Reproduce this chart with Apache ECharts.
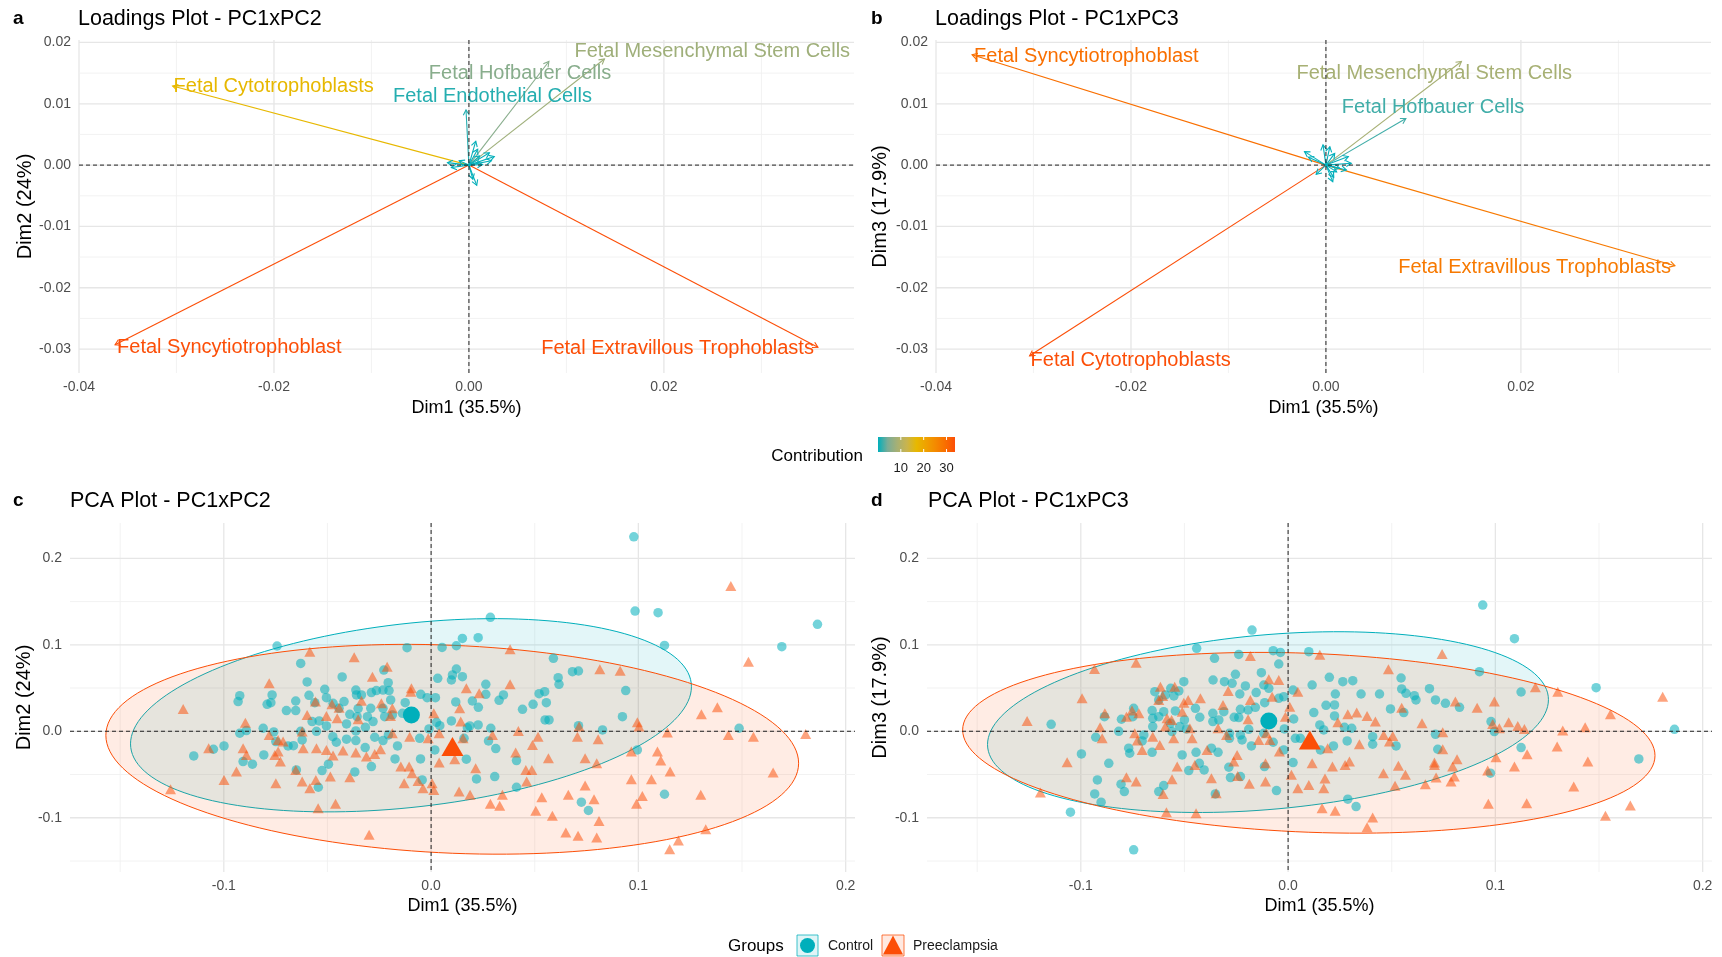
<!DOCTYPE html>
<html><head><meta charset="utf-8">
<script src="https://cdn.jsdelivr.net/npm/echarts@6/dist/echarts.min.js"></script>
<style>html,body{margin:0;padding:0;background:#fff}#c{width:1722px;height:957px}</style>
</head><body><div id="c"></div>
<script>
// ================= DATA =================
// Loadings (variables)
const varNames = ['Fetal Syncytiotrophoblast','Fetal Extravillous Trophoblasts','Fetal Cytotrophoblasts','Fetal Mesenchymal Stem Cells','Fetal Hofbauer Cells','Fetal Endothelial Cells',
  'Cell type 7','Cell type 8','Cell type 9','Cell type 10','Cell type 11','Cell type 12','Cell type 13','Cell type 14','Cell type 15','Cell type 16','Cell type 17','Cell type 18'];
const loadDim1 = [-0.0363, 0.0358, -0.0304, 0.0139, 0.0082, -0.0003, 0.0007, 0.0009, 0.0021, 0.0026, 0.0023, 0.0011, -0.0022, -0.0018, 0.0008, 0.0004, 0.0014, -0.0010];
const loadDim2 = [-0.0293, -0.0297, 0.0129, 0.0173, 0.0169, 0.0090, 0.0039, 0.0026, 0.0020, 0.0014, 0.0007, 0.0015, 0.0004, -0.0004, -0.0033, -0.0023, 0.0001, 0.0007];
const loadDim3 = [0.0180, -0.0164, -0.0311, 0.0169, 0.0076, 0.0033, -0.0027, 0.0019, -0.0008, 0.0003, 0.0014, -0.0011, 0.0022, 0.0013, -0.0020, 0.0030, -0.0005, -0.0015];
const contribPC12 = [33.7, 33.7, 16.9, 7.7, 5.5, 1.3, 0.24, 0.12, 0.13, 0.14, 0.09, 0.05, 0.08, 0.05, 0.18, 0.09, 0.03, 0.02];
const contribPC13 = [28.6, 27.1, 32.9, 8.3, 2.2, 0.2, 0.13, 0.07, 0.09, 0.12, 0.13, 0.04, 0.17, 0.08, 0.08, 0.04, 0.04, 0.05];
const contribTicks = [10, 20, 30];

// Tick values
const loadXMajor = [-0.04, -0.02, 0, 0.02];
const loadXMinor = [-0.03, -0.01, 0.01, 0.03];
const loadYMajor = [-0.03, -0.02, -0.01, 0, 0.01, 0.02];
const loadYMinor = [-0.025, -0.015, -0.005, 0.005, 0.015];
const pcaXMajor = [-0.1, 0, 0.1, 0.2];
const pcaXMinor = [-0.15, -0.05, 0.05, 0.15];
const pcaYMajor = [-0.1, 0, 0.1, 0.2];
const pcaYMinor = [-0.15, -0.05, 0.05, 0.15];

// Individuals, PC1 x PC2
const ctrlPC12 = [[-0.0743,0.0986],[-0.0116,0.0966],[0.0053,0.0970],[0.0122,0.0989],[-0.0629,0.0785],[-0.0228,0.0708],[0.0122,0.0720],[0.0103,0.0651],[0.0032,0.0612],[0.0098,0.0593],[-0.0429,0.0628],[-0.0598,0.0570],[-0.0207,0.0562],[-0.0923,0.0412],[-0.0931,0.0343],[-0.0767,0.0420],[-0.0773,0.0331],[-0.0791,0.0312],[-0.0653,0.0350],[-0.0698,0.0239],[-0.0653,0.0239],[-0.0589,0.0416],[-0.0513,0.0485],[-0.0505,0.0389],[-0.0561,0.0331],[-0.0473,0.0323],[-0.0420,0.0343],[-0.0444,0.0266],[-0.0363,0.0477],[-0.0360,0.0420],[-0.0336,0.0420],[-0.0288,0.0447],[-0.0264,0.0470],[-0.0232,0.0477],[-0.0203,0.0470],[-0.0195,0.0362],[-0.0125,0.0331],[-0.0050,0.0427],[-0.0019,0.0389],[0.0021,0.0389],[0.0119,0.0339],[-0.0352,0.0262],[-0.0291,0.0266],[-0.0232,0.0266],[-0.0357,0.0169],[-0.0307,0.0169],[-0.0280,0.0112],[-0.0392,0.0196],[-0.0408,0.0085],[-0.0317,0.0046],[-0.0363,0.0004],[-0.0224,0.0169],[-0.0187,0.0189],[-0.0138,0.0208],[-0.0574,0.0112],[-0.0540,0.0119],[-0.0505,0.0062],[-0.0553,0.0000],[-0.0629,0.0000],[-0.0810,0.0035],[-0.0759,-0.0008],[-0.0891,0.0008],[-0.0923,-0.0023],[-0.0690,-0.0169],[-0.0622,-0.0100],[-0.0474,-0.0062],[-0.0457,-0.0127],[-0.0408,-0.0092],[-0.0363,-0.0108],[-0.0318,-0.0189],[-0.0272,-0.0069],[-0.0232,-0.0108],[-0.0206,-0.0042],[-0.0162,-0.0169],[-0.0174,-0.0320],[-0.0288,-0.0408],[-0.0368,-0.0470],[-0.0495,-0.0381],[-0.0526,-0.0454],[-0.0544,-0.0647],[-0.0650,-0.0447],[-0.0664,-0.0166],[-0.0749,-0.0119],[-0.0807,-0.0273],[-0.0862,-0.0381],[-0.0907,-0.0350],[-0.0999,-0.0169],[-0.1050,-0.0208],[-0.1145,-0.0285],[-0.0055,-0.0081],[-0.0010,0.0027],[0.0026,0.0104],[0.0042,0.0065],[0.0098,0.0119],[0.0018,-0.0216],[-0.0051,-0.0320],[-0.0043,-0.0562],
  [0.0151,0.1074],[0.0151,0.0631],[0.0159,-0.0081],[0.0170,-0.0323],[0.0175,0.0040],
  [0.0978,0.2248],[0.0286,0.1317],[0.0227,0.1082],[0.0984,0.1390],[0.1095,0.1371],[0.1864,0.1236],[0.1126,0.0993],[0.1692,0.0978],[0.0590,0.0843],[0.0682,0.0689],[0.0711,0.0697],[0.0613,0.0620],[0.0617,0.0543],[0.0264,0.0543],[0.0264,0.0427],[0.0199,0.0350],[0.0228,0.0277],[0.0328,0.0358],[0.0349,0.0420],[0.0441,0.0254],[0.0492,0.0312],[0.0521,0.0435],[0.0548,0.0458],[0.0556,0.0331],[0.0550,0.0131],[0.0569,0.0131],[0.0939,0.0470],[0.0923,0.0169],[0.0711,0.0065],[0.0827,0.0015],[0.0227,0.0073],[0.0187,0.0062],[0.0288,0.0035],[0.0277,-0.0112],[0.0312,-0.0200],[0.0412,-0.0339],[0.0307,-0.0524],[0.0219,-0.0551],[0.0412,-0.0647],[0.0995,-0.0216],[0.1486,0.0035],[0.1126,-0.0728],[0.0725,-0.0820],[0.0759,-0.0916]];
const preePC12 = [[-0.0585,0.0920],[-0.0371,0.0855],[-0.0283,0.0631],[-0.0212,0.0747],[-0.0781,0.0554],[-0.1196,0.0258],[-0.0896,0.0100],[-0.0781,-0.0042],[-0.0738,-0.0100],[-0.0714,-0.0119],[-0.0598,0.0189],[-0.0558,0.0343],[-0.0505,0.0177],[-0.0478,0.0312],[-0.0453,0.0150],[-0.0444,0.0273],[-0.0352,0.0139],[-0.0336,0.0354],[-0.0240,0.0323],[-0.0187,0.0266],[-0.0196,0.0177],[-0.0095,0.0497],[-0.0098,0.0458],[0.0013,0.0208],[0.0039,-0.0023],[-0.0014,-0.0081],[-0.0103,-0.0062],[-0.0187,-0.0023],[-0.0622,-0.0004],[-0.1073,-0.0196],[-0.0907,-0.0196],[-0.0891,-0.0273],[-0.0738,-0.0235],[-0.0754,-0.0273],[-0.0727,-0.0350],[-0.0617,-0.0196],[-0.0553,-0.0196],[-0.0505,-0.0216],[-0.0473,-0.0281],[-0.0425,-0.0223],[-0.0363,-0.0246],[-0.0312,-0.0293],[-0.0272,-0.0262],[-0.0244,-0.0208],[-0.0939,-0.0466],[-0.0999,-0.0562],[-0.0749,-0.0601],[-0.0653,-0.0447],[-0.0622,-0.0581],[-0.0585,-0.0658],[-0.0556,-0.0562],[-0.0486,-0.0524],[-0.0392,-0.0531],[-0.0146,-0.0408],[-0.0106,-0.0408],[-0.0092,-0.0485],[-0.0130,-0.0601],[-0.0039,-0.0658],[0.0005,-0.0601],[0.0013,-0.0678],[-0.0063,-0.0574],[0.0039,-0.0362],[0.0114,-0.0323],[-0.0461,-0.0839],[-0.0545,-0.0889],[-0.0299,-0.1197],[-0.1257,-0.0670],[0.0138,0.0266],[0.0135,-0.0697],
  [0.0170,0.0497],[0.0143,0.0112],[0.0154,-0.0081],
  [0.1446,0.1679],[0.1531,0.0805],[0.0381,0.0947],[0.0814,0.0716],[0.0912,0.0701],[0.0381,0.0543],[0.0232,0.0439],[0.1304,0.0196],[0.1381,0.0277],[0.0995,0.0104],[0.1003,0.0054],[0.1140,-0.0015],[0.1434,-0.0042],[0.1555,-0.0062],[0.1807,-0.0031],[0.0421,0.0004],[0.0516,-0.0062],[0.0489,-0.0158],[0.0296,-0.0042],[0.0706,-0.0062],[0.0714,0.0054],[0.0806,-0.0092],[0.0408,-0.0246],[0.0566,-0.0312],[0.0743,-0.0312],[0.0799,-0.0370],[0.0966,-0.0235],[0.1092,-0.0235],[0.1108,-0.0339],[0.1153,-0.0466],[0.1650,-0.0477],[0.0215,-0.0427],[0.0457,-0.0447],[0.0486,-0.0447],[0.0461,-0.0581],[0.0743,-0.0628],[0.0966,-0.0554],[0.1063,-0.0554],[0.0344,-0.0735],[0.0286,-0.0839],[0.0331,-0.0862],[0.0188,-0.0735],[0.0534,-0.0762],[0.0662,-0.0735],[0.0786,-0.0785],[0.1019,-0.0747],[0.0991,-0.0839],[0.1301,-0.0735],[0.0505,-0.0920],[0.0585,-0.0978],[0.0810,-0.1036],[0.0650,-0.1170],[0.0709,-0.1209],[0.0799,-0.1228],[0.1325,-0.1132],[0.1193,-0.1263],[0.1151,-0.1363]];

// Individuals, PC1 x PC3
const ctrlPC13 = [[-0.0174,0.1170],[-0.0441,0.0959],[-0.0355,0.0843],[-0.0238,0.0889],[-0.0072,0.0932],[-0.0037,0.0912],[-0.0045,0.0778],[0.0100,0.0920],[-0.0254,0.0658],[-0.0129,0.0678],[-0.0362,0.0593],[-0.0307,0.0574],[-0.0270,0.0554],[-0.0206,0.0524],[-0.0117,0.0535],[-0.0503,0.0574],[-0.0566,0.0497],[-0.0527,0.0466],[-0.0643,0.0458],[-0.0592,0.0420],[-0.0624,0.0362],[-0.0551,0.0408],[-0.0233,0.0431],[-0.0154,0.0447],[-0.0093,0.0497],[-0.0113,0.0331],[-0.0045,0.0381],[-0.0021,0.0400],[0.0024,0.0477],[0.0116,0.0535],[0.0124,0.0216],[0.0027,0.0142],[-0.0158,0.0277],[-0.0193,0.0246],[-0.0230,0.0254],[-0.0238,0.0158],[-0.0260,0.0162],[-0.0310,0.0227],[-0.0363,0.0208],[-0.0363,0.0112],[-0.0334,0.0131],[-0.0426,0.0162],[-0.0447,0.0266],[-0.0500,0.0131],[-0.0490,0.0027],[-0.0544,0.0235],[-0.0600,0.0227],[-0.0656,0.0239],[-0.0653,0.0150],[-0.0653,0.0054],[-0.0568,0.0092],[-0.0560,-0.0004],[-0.0523,0.0054],[-0.0745,0.0266],[-0.0804,0.0139],[-0.0749,0.0169],[-0.0886,0.0169],[-0.0817,0.0000],[-0.0696,-0.0042],[-0.0704,-0.0112],[-0.0769,-0.0196],[-0.0764,-0.0254],[-0.0656,-0.0243],[-0.0928,-0.0069],[-0.0997,-0.0262],[-0.1143,0.0081],[-0.0865,-0.0370],[-0.0920,-0.0562],[-0.0933,-0.0724],[-0.0902,-0.0820],[-0.0806,-0.0612],[-0.0790,-0.0697],[-0.0600,-0.0628],[-0.0624,-0.0697],[-0.0511,-0.0273],[-0.0479,-0.0454],[-0.0444,-0.0243],[-0.0428,-0.0370],[-0.0405,-0.0447],[-0.0370,-0.0196],[-0.0338,-0.0243],[-0.0351,-0.0724],[-0.0286,-0.0416],[-0.0278,-0.0535],[-0.0230,-0.0524],[-0.0283,-0.0023],[-0.0283,-0.0081],[-0.0230,-0.0042],[-0.0222,-0.0100],[-0.0190,0.0023],[-0.0177,-0.0169],[-0.0117,-0.0023],[-0.0072,-0.0127],[-0.0114,-0.0408],[-0.0056,-0.0685],[-0.0021,-0.0216],[0.0024,-0.0362],[-0.0018,0.0027],[0.0035,-0.0081],[0.0059,-0.0081],[0.0153,0.0073],[0.0172,0.0015],[0.0156,-0.0216],[-0.1050,-0.0936],[-0.0745,-0.1371],[-0.0624,0.0169],
  [0.0939,0.1459],[0.1092,0.1070],[0.1486,0.0504],[0.1864,0.0023],[0.1692,-0.0320],[0.0923,0.0689],[0.1124,0.0454],[0.0979,0.0112],[0.0995,-0.0004],[0.1124,-0.0189],[0.0976,-0.0485],[0.0199,0.0624],[0.0264,0.0574],[0.0312,0.0585],[0.0228,0.0431],[0.0352,0.0431],[0.0441,0.0431],[0.0545,0.0616],[0.0548,0.0489],[0.0569,0.0439],[0.0609,0.0412],[0.0617,0.0362],[0.0682,0.0493],[0.0711,0.0362],[0.0759,0.0323],[0.0827,0.0277],[0.0183,0.0300],[0.0224,0.0304],[0.0224,0.0177],[0.0494,0.0258],[0.0558,0.0216],[0.0272,0.0046],[0.0307,0.0035],[0.0285,-0.0112],[0.0408,-0.0062],[0.0408,-0.0150],[0.0521,-0.0169],[0.0711,-0.0035],[0.0722,-0.0208],[0.0288,-0.0785],[0.0328,-0.0870],[0.0219,-0.0169]];
const preePC13 = [[-0.0733,0.0793],[-0.0934,0.0720],[-0.0182,0.0870],[0.0153,0.0886],[-0.0994,0.0381],[-0.1259,0.0119],[-0.0884,0.0208],[-0.0907,0.0046],[-0.0897,-0.0081],[-0.1066,-0.0358],[-0.1195,-0.0708],[-0.0780,0.0169],[-0.0753,0.0239],[-0.0720,0.0208],[-0.0740,-0.0023],[-0.0727,-0.0108],[-0.0704,-0.0216],[-0.0616,0.0516],[-0.0605,0.0408],[-0.0624,0.0362],[-0.0547,0.0516],[-0.0584,0.0150],[-0.0562,0.0131],[-0.0592,0.0054],[-0.0511,0.0227],[-0.0503,0.0331],[-0.0482,0.0362],[-0.0423,0.0381],[-0.0474,0.0035],[-0.0463,-0.0081],[-0.0552,-0.0081],[-0.0653,-0.0062],[-0.0619,-0.0158],[-0.0535,-0.0408],[-0.0560,-0.0554],[-0.0733,-0.0581],[-0.0780,-0.0531],[-0.0603,-0.0724],[-0.0587,-0.0936],[-0.0444,-0.0947],[-0.0450,-0.0389],[-0.0370,-0.0543],[-0.0347,-0.0716],[-0.0391,-0.0216],[-0.0338,0.0035],[-0.0314,0.0304],[-0.0289,0.0466],[-0.0297,-0.0042],[-0.0246,-0.0273],[-0.0243,-0.0516],[-0.0262,-0.0350],[-0.0187,-0.0608],[-0.0109,-0.0370],[-0.0109,-0.0581],[-0.0142,-0.0100],[-0.0193,0.0139],[-0.0182,0.0362],[-0.0093,0.0601],[-0.0045,0.0593],[-0.0077,0.0400],[-0.0088,-0.0100],[0.0008,0.0285],[-0.0013,0.0169],[0.0047,0.0458],[-0.0042,-0.0235],[0.0016,-0.0504],[0.0047,-0.0658],[0.0100,-0.0620],[0.0116,-0.0370],[0.0164,-0.0889],[-0.0105,-0.0023],
  [0.0743,0.0893],[0.0484,0.0716],[0.1807,0.0400],[0.1193,0.0508],[0.1301,0.0458],[0.1555,0.0196],[0.0995,0.0343],[0.0912,0.0273],[0.0807,0.0343],[0.0288,0.0196],[0.0331,0.0216],[0.0381,0.0177],[0.0421,0.0112],[0.0240,0.0104],[0.0548,0.0273],[0.0646,0.0092],[0.0746,-0.0012],[0.0987,0.0085],[0.1019,0.0035],[0.1064,0.0104],[0.1108,0.0062],[0.1140,0.0027],[0.1325,0.0008],[0.1433,0.0046],[0.0461,-0.0042],[0.0505,-0.0054],[0.0489,-0.0119],[0.0344,-0.0150],[0.0191,-0.0196],[0.0214,-0.0408],[0.0275,-0.0389],[0.0296,-0.0350],[0.0178,-0.0547],[0.0172,-0.0658],[0.0460,-0.0485],[0.0532,-0.0400],[0.0566,-0.0504],[0.0516,-0.0631],[0.0662,-0.0612],[0.0706,-0.0362],[0.0706,-0.0389],[0.0714,-0.0535],[0.0746,-0.0208],[0.0794,-0.0408],[0.0815,-0.0323],[0.0786,-0.0581],[0.0802,-0.0524],[0.0963,-0.0454],[0.1003,-0.0300],[0.1092,-0.0408],[0.1153,-0.0266],[0.1298,-0.0177],[0.1446,-0.0350],[0.1378,-0.0639],[0.0966,-0.0839],[0.1151,-0.0832],[0.1531,-0.0978],[0.1651,-0.0859],[0.0408,-0.0997],[0.0381,-0.1109],[0.0227,-0.0920]];

// Group means
const meanCtrlPC12 = [-0.0095, 0.0189];
const meanPreePC12 = [0.0103, -0.0177];
const meanCtrlPC13 = [-0.0093, 0.0119];
const meanPreePC13 = [0.0105, -0.0100];

// Confidence ellipses: [centerX, centerY, halfWidthX, halfHeightY, correlation]
const ellCtrlPC12 = [-0.0097, 0.0185, 0.1353, 0.1117, 0.296];
const ellPreePC12 = [0.0102, -0.0208, 0.1671, 0.1213, -0.133];
const ellCtrlPC13 = [-0.0097, 0.0106, 0.1353, 0.1045, 0.248];
const ellPreePC13 = [0.0100, -0.0133, 0.1670, 0.1045, -0.142];

// ================= STYLE =================
const FONT = '"Liberation Sans", Arial, Helvetica, sans-serif';
const TEAL = '#00AFBB', ORANGE = '#FC4E07';
const GRAD = ['#00AFBB','#7AAC97','#A7B074','#C9B44E','#E7B800','#EFA100','#F48900','#F96E00','#FC4E07'];

const labelPosA = {
  'Fetal Syncytiotrophoblast': {dx: 2, dy: 3, align: 'left'},
  'Fetal Extravillous Trophoblasts': {dx: -4, dy: 1, align: 'right'},
  'Fetal Cytotrophoblasts': {dx: 1, dy: 0, align: 'left'},
  'Fetal Mesenchymal Stem Cells': {dx: -30, dy: -8, align: 'left'},
  'Fetal Hofbauer Cells': {dx: -120, dy: 12, align: 'left'},
  'Fetal Endothelial Cells': {dx: -73, dy: -13, align: 'left'}
};
const labelPosB = {
  'Fetal Syncytiotrophoblast': {dx: 2, dy: 2, align: 'left'},
  'Fetal Cytotrophoblasts': {dx: 1, dy: 5, align: 'left'},
  'Fetal Extravillous Trophoblasts': {dx: -4, dy: 2, align: 'right'},
  'Fetal Mesenchymal Stem Cells': {dx: -165, dy: 12, align: 'left'},
  'Fetal Hofbauer Cells': {dx: -64, dy: -11, align: 'left'}
};

const panels = [
  {grid: {left: 79, top: 40, width: 775, height: 333}, x: [-0.04, 0.0395], y: [-0.0339, 0.0204], xName: 'Dim1 (35.5%)', yName: 'Dim2 (24%)', xGap: 26, yGap: 44, digits: 2, xMaj: loadXMajor, xMin: loadXMinor, yMaj: loadYMajor, yMin: loadYMinor},
  {grid: {left: 936, top: 40, width: 775, height: 333}, x: [-0.04, 0.0395], y: [-0.0339, 0.0204], xName: 'Dim1 (35.5%)', yName: 'Dim3 (17.9%)', xGap: 26, yGap: 46, digits: 2, xMaj: loadXMajor, xMin: loadXMinor, yMaj: loadYMajor, yMin: loadYMinor},
  {grid: {left: 70, top: 523, width: 785, height: 349}, x: [-0.1742, 0.2045], y: [-0.1627, 0.2408], xName: 'Dim1 (35.5%)', yName: 'Dim2 (24%)', xGap: 25, yGap: 36, digits: 1, xMaj: pcaXMajor, xMin: pcaXMinor, yMaj: pcaYMajor, yMin: pcaYMinor},
  {grid: {left: 927, top: 523, width: 785, height: 349}, x: [-0.1742, 0.2045], y: [-0.1627, 0.2408], xName: 'Dim1 (35.5%)', yName: 'Dim3 (17.9%)', xGap: 25, yGap: 37, digits: 1, xMaj: pcaXMajor, xMin: pcaXMinor, yMaj: pcaYMajor, yMin: pcaYMinor}
];

function fmt(v, d) { const s = Math.abs(v).toFixed(d); return (v < -1e-12 ? '-' : '') + s; }

// ================= BUILD =================
const grids = [], xAxes = [], yAxes = [], series = [];
panels.forEach((p, i) => {
  grids.push(Object.assign({containLabel: false}, p.grid));
  xAxes.push({gridIndex: i, type: 'value', min: p.x[0], max: p.x[1], axisLine: {show: false}, axisTick: {show: false}, axisLabel: {show: false}, splitLine: {show: false},
    name: p.xName, nameLocation: 'middle', nameGap: p.xGap, nameTextStyle: {fontSize: 18, color: '#000', fontFamily: FONT}});
  yAxes.push({gridIndex: i, type: 'value', min: p.y[0], max: p.y[1], axisLine: {show: false}, axisTick: {show: false}, axisLabel: {show: false}, splitLine: {show: false},
    name: p.yName, nameLocation: 'middle', nameGap: p.yGap, nameTextStyle: {fontSize: 20, color: '#000', fontFamily: FONT}});
  const gdata = [];
  p.xMaj.forEach(v => gdata.push([v, 0, 0]));
  p.xMin.forEach(v => gdata.push([v, 0, 1]));
  p.yMaj.forEach(v => gdata.push([v, 1, 0]));
  p.yMin.forEach(v => gdata.push([v, 1, 1]));
  series.push({type: 'custom', xAxisIndex: i, yAxisIndex: i, z: 1, silent: true, data: gdata,
    renderItem: function (params, api) {
      const cs = params.coordSys;
      const v = api.value(0), dir = api.value(1), kind = api.value(2);
      const st = kind === 0 ? {stroke: '#E6E6E6', lineWidth: 1.3} : {stroke: '#F1F1F1', lineWidth: 0.9};
      const ch = [];
      if (dir === 0) {
        const px = api.coord([v, 0])[0];
        ch.push({type: 'line', shape: {x1: px, y1: cs.y, x2: px, y2: cs.y + cs.height}, style: st});
        if (kind === 0) ch.push({type: 'text', x: px, y: cs.y + cs.height + 14, style: {text: fmt(v, p.digits), fill: '#4D4D4D', fontSize: 14, fontFamily: FONT, align: 'center', verticalAlign: 'middle', textAlign: 'center', textVerticalAlign: 'middle'}});
      } else {
        const py = api.coord([0, v])[1];
        ch.push({type: 'line', shape: {x1: cs.x, y1: py, x2: cs.x + cs.width, y2: py}, style: st});
        if (kind === 0) ch.push({type: 'text', x: cs.x - 8, y: py, style: {text: fmt(v, p.digits), fill: '#4D4D4D', fontSize: 14, fontFamily: FONT, align: 'right', verticalAlign: 'middle', textAlign: 'right', textVerticalAlign: 'middle'}});
      }
      return {type: 'group', children: ch};
    }});
});

// Loadings arrows
function arrowRender(labelPos) {
  return function (params, api) {
    const x = api.value(0), y = api.value(1), idx = api.value(3);
    const o = api.coord([0, 0]), t = api.coord([x, y]);
    const color = api.visual('color');
    const ang = Math.atan2(t[1] - o[1], t[0] - o[0]);
    const L = 6, A = Math.PI / 6;
    const p1 = [t[0] - L * Math.cos(ang - A), t[1] - L * Math.sin(ang - A)];
    const p2 = [t[0] - L * Math.cos(ang + A), t[1] - L * Math.sin(ang + A)];
    const ch = [
      {type: 'line', shape: {x1: o[0], y1: o[1], x2: t[0], y2: t[1]}, style: {stroke: color, lineWidth: 1.1}},
      {type: 'polyline', shape: {points: [p1, t, p2]}, style: {stroke: color, lineWidth: 1.1, fill: null}}
    ];
    const name = varNames[idx];
    const lp = labelPos[name];
    if (lp) ch.push({type: 'text', x: t[0] + lp.dx, y: t[1] + lp.dy, z2: 10,
      style: {text: name, fill: color, fontSize: 20, fontFamily: FONT, align: lp.align, verticalAlign: 'middle', textAlign: lp.align, textVerticalAlign: 'middle'}});
    return {type: 'group', children: ch};
  };
}
const rowsA = varNames.map((n, i) => [loadDim1[i], loadDim2[i], contribPC12[i], i]);
const rowsB = varNames.map((n, i) => [loadDim1[i], loadDim3[i], contribPC13[i], i]);
const idxArrowA = series.length;
series.push({type: 'custom', xAxisIndex: 0, yAxisIndex: 0, z: 3, silent: true, data: rowsA, renderItem: arrowRender(labelPosA)});
const idxArrowB = series.length;
series.push({type: 'custom', xAxisIndex: 1, yAxisIndex: 1, z: 3, silent: true, data: rowsB, renderItem: arrowRender(labelPosB)});

// Ellipses
function ellRender(color, fill) {
  return function (params, api) {
    const cx = api.value(0), cy = api.value(1), sx = api.value(2), sy = api.value(3), r = api.value(4);
    const pts = [];
    const q = Math.sqrt(1 - r * r);
    for (let k = 0; k < 160; k++) {
      const th = 2 * Math.PI * k / 160;
      pts.push(api.coord([cx + sx * Math.cos(th), cy + sy * (r * Math.cos(th) + q * Math.sin(th))]));
    }
    return {type: 'polygon', shape: {points: pts}, style: {fill: fill, stroke: color, lineWidth: 1}};
  };
}
[[2, ellCtrlPC12, TEAL, 'rgba(0,175,187,0.11)'], [2, ellPreePC12, ORANGE, 'rgba(252,78,7,0.11)'],
 [3, ellCtrlPC13, TEAL, 'rgba(0,175,187,0.11)'], [3, ellPreePC13, ORANGE, 'rgba(252,78,7,0.11)']].forEach(e => {
  series.push({type: 'custom', xAxisIndex: e[0], yAxisIndex: e[0], z: 2, silent: true, data: [e[1]], renderItem: ellRender(e[2], e[3])});
});

// Individuals
function pts(gi, data, isCtrl) {
  series.push({type: 'scatter', xAxisIndex: gi, yAxisIndex: gi, z: 4, silent: true, data: data,
    symbol: isCtrl ? 'circle' : 'triangle', symbolSize: isCtrl ? 9.5 : [11, 10],
    itemStyle: {color: isCtrl ? TEAL : ORANGE, opacity: isCtrl ? 0.55 : 0.52}});
}
pts(2, ctrlPC12, true); pts(2, preePC12, false);
pts(3, ctrlPC13, true); pts(3, preePC13, false);
function mean(gi, m, isCtrl) {
  series.push({type: 'scatter', xAxisIndex: gi, yAxisIndex: gi, z: 5, silent: true, data: [m],
    symbol: isCtrl ? 'circle' : 'triangle', symbolSize: isCtrl ? 17 : [22, 19],
    itemStyle: {color: isCtrl ? TEAL : ORANGE, opacity: 1}});
}
mean(2, meanCtrlPC12, true); mean(2, meanPreePC12, false);
mean(3, meanCtrlPC13, true); mean(3, meanPreePC13, false);

// Zero reference lines (dashed, on top)
panels.forEach((p, i) => {
  series.push({type: 'custom', xAxisIndex: i, yAxisIndex: i, z: 6, silent: true, data: [[0, 0], [0, 1]],
    renderItem: function (params, api) {
      const cs = params.coordSys;
      const dir = api.value(1);
      const o = api.coord([0, 0]);
      const shape = dir === 0 ? {x1: o[0], y1: cs.y, x2: o[0], y2: cs.y + cs.height} : {x1: cs.x, y1: o[1], x2: cs.x + cs.width, y2: o[1]};
      return {type: 'line', shape: shape, style: {stroke: '#222', lineWidth: 1, lineDash: [4, 3]}};
    }});
});

// Contribution colour bar (uses panel a's contribution range)
const cMin = Math.min.apply(null, contribPC12), cMax = Math.max.apply(null, contribPC12);
const barX = 878, barW = 77, barY = 437, barH = 15;
const graphics = [];
graphics.push({type: 'rect', shape: {x: barX, y: barY, width: barW, height: barH},
  style: {fill: new echarts.graphic.LinearGradient(0, 0, 1, 0, GRAD.map((c, k) => ({offset: k / (GRAD.length - 1), color: c})))}});
contribTicks.forEach(v => {
  const px = barX + (v - cMin) / (cMax - cMin) * barW;
  graphics.push({type: 'line', shape: {x1: px, y1: barY, x2: px, y2: barY + 3}, style: {stroke: '#fff', lineWidth: 1}});
  graphics.push({type: 'line', shape: {x1: px, y1: barY + barH - 3, x2: px, y2: barY + barH}, style: {stroke: '#fff', lineWidth: 1}});
  graphics.push({type: 'text', x: px, y: 468, style: {text: String(v), fill: '#1a1a1a', fontSize: 13, fontFamily: FONT, align: 'center', verticalAlign: 'middle', textAlign: 'center', textVerticalAlign: 'middle'}});
});
graphics.push({type: 'text', x: 863, y: 456, style: {text: 'Contribution', fill: '#000', fontSize: 17, fontFamily: FONT, align: 'right', verticalAlign: 'middle', textAlign: 'right', textVerticalAlign: 'middle'}});

// Panel titles
[['a', 13, 78, 19, 'Loadings Plot - PC1xPC2'], ['b', 871, 935, 19, 'Loadings Plot - PC1xPC3'],
 ['c', 13, 70, 501, 'PCA Plot - PC1xPC2'], ['d', 871, 928, 501, 'PCA Plot - PC1xPC3']].forEach(t => {
  graphics.push({type: 'text', x: t[1], y: t[3], style: {text: t[0], fill: '#000', fontSize: 19, fontWeight: 'bold', fontFamily: FONT, align: 'left', verticalAlign: 'middle', textAlign: 'left', textVerticalAlign: 'middle'}});
  graphics.push({type: 'text', x: t[2], y: t[3], style: {text: t[4], fill: '#000', fontSize: 21.5, fontFamily: FONT, align: 'left', verticalAlign: 'middle', textAlign: 'left', textVerticalAlign: 'middle'}});
});

// Groups legend
graphics.push({type: 'text', x: 728, y: 946, style: {text: 'Groups', fill: '#000', fontSize: 17, fontFamily: FONT, align: 'left', verticalAlign: 'middle', textAlign: 'left', textVerticalAlign: 'middle'}});
graphics.push({type: 'rect', shape: {x: 797, y: 935, width: 21, height: 21}, style: {fill: 'rgba(0,175,187,0.12)', stroke: 'rgba(0,175,187,0.75)', lineWidth: 1}});
graphics.push({type: 'circle', shape: {cx: 807.5, cy: 945.5, r: 7.5}, style: {fill: TEAL}});
graphics.push({type: 'text', x: 828, y: 946, style: {text: 'Control', fill: '#1a1a1a', fontSize: 14, fontFamily: FONT, align: 'left', verticalAlign: 'middle', textAlign: 'left', textVerticalAlign: 'middle'}});
graphics.push({type: 'rect', shape: {x: 882, y: 935, width: 22, height: 21}, style: {fill: 'rgba(252,78,7,0.12)', stroke: 'rgba(252,78,7,0.75)', lineWidth: 1}});
graphics.push({type: 'polygon', shape: {points: [[893, 935.5], [903, 954.5], [883, 954.5]]}, style: {fill: ORANGE}});
graphics.push({type: 'text', x: 913, y: 946, style: {text: 'Preeclampsia', fill: '#1a1a1a', fontSize: 14, fontFamily: FONT, align: 'left', verticalAlign: 'middle', textAlign: 'left', textVerticalAlign: 'middle'}});

const chart = echarts.init(document.getElementById('c'), null, {renderer: 'canvas'});
chart.setOption({
  animation: false,
  backgroundColor: '#fff',
  textStyle: {fontFamily: FONT},
  grid: grids, xAxis: xAxes, yAxis: yAxes,
  visualMap: [
    {type: 'continuous', show: false, seriesIndex: idxArrowA, dimension: 2, min: Math.min.apply(null, contribPC12), max: Math.max.apply(null, contribPC12), inRange: {color: GRAD}},
    {type: 'continuous', show: false, seriesIndex: idxArrowB, dimension: 2, min: Math.min.apply(null, contribPC13), max: Math.max.apply(null, contribPC13), inRange: {color: GRAD}}
  ],
  graphic: {elements: graphics},
  series: series
});
</script>
</body></html>
